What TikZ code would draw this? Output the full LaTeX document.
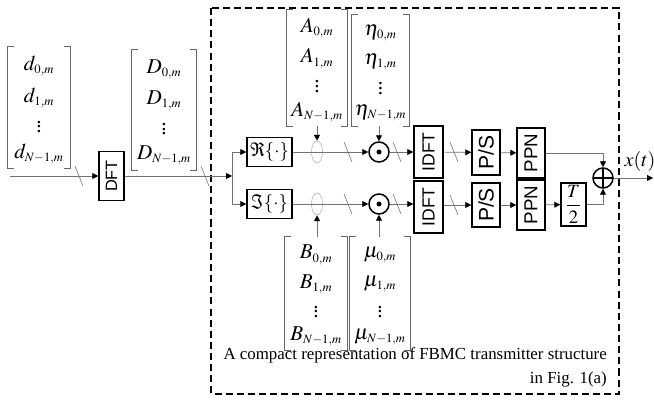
\documentclass[tikz,border=0pt]{standalone}
\usepackage{mathptmx}
\usepackage{fontspec}
\setmainfont{Liberation Serif}
\setsansfont{Liberation Sans}
\usetikzlibrary{arrows.meta,calc,shapes.geometric}

\tikzset{
  sig/.style={draw=black!55, line width=0.6pt, -{Triangle[length=5pt,width=5pt,black]}},
  wire/.style={draw=black!55, line width=0.6pt},
  slash/.style={draw=black!55, line width=0.5pt},
  blk/.style={draw, line width=1.3pt, inner sep=0pt, fill=white},
  brk/.style={draw=black!60, line width=0.7pt},
  entry/.style={inner sep=0pt, font=\fontsize{18}{20}\selectfont},
  vecbox/.style={inner sep=0pt},
  mult/.style={circle, draw, line width=1.3pt, minimum size=0.6cm, inner sep=0pt,
    path picture={\fill (path picture bounding box.center) circle (0.075cm);}},
  adder/.style={circle, draw, line width=1.3pt, minimum size=0.6cm, inner sep=0pt,
    path picture={\draw[line width=1pt] (path picture bounding box.north) -- (path picture bounding box.south)
      (path picture bounding box.west) -- (path picture bounding box.east);}},
  lens/.style={ellipse, draw=black!30, line width=0.5pt, minimum width=0.33cm, minimum height=0.66cm, inner sep=0pt},
  dashbox/.style={draw, line width=0.9pt, dash pattern=on 6pt off 3.5pt},
  capt/.style={inner sep=0pt, font=\fontsize{14.4}{20.5}\selectfont}
}
\newcommand\sub[1]{_{\scriptscriptstyle #1}}

\begin{document}
\begin{tikzpicture}[x=0.03cm, y=-0.03cm]
  \useasboundingbox (0,0) rectangle (654,401);

  % transmitter frame
  \draw[dashbox] (211,8) rectangle (619,394);

  % column vectors
  \node[vecbox, minimum width=1.86cm, minimum height=3.63cm] (dvec) at (39,107.5) {};
  \node[vecbox, minimum width=1.92cm, minimum height=3.6cm] (Dvec) at (164,110) {};
  \node[vecbox, minimum width=1.8cm, minimum height=3.48cm] (Avec) at (317,68) {};
  \node[vecbox, minimum width=1.71cm, minimum height=3.33cm] (evec) at (380.5,70.5) {};
  \node[vecbox, minimum width=1.86cm, minimum height=3.39cm] (Bvec) at (316,293.5) {};
  \node[vecbox, minimum width=1.8cm, minimum height=3.39cm] (mvec) at (380,293.5) {};
  \foreach \v/\s in {dvec/d, Dvec/D, Avec/A, evec/\eta, Bvec/B, mvec/\mu} {
    \draw[brk] ([xshift=0.18cm]\v.north west) -- (\v.north west) -- (\v.south west) -- ([xshift=0.18cm]\v.south west);
    \draw[brk] ([xshift=-0.18cm]\v.north east) -- (\v.north east) -- (\v.south east) -- ([xshift=-0.18cm]\v.south east);
    \node[entry] (\v-0) at ($(\v.north)!0.16!(\v.south)$) {$\s\sub{0,m}$};
    \node[entry] (\v-1) at ($(\v.north)!0.42!(\v.south)$) {$\s\sub{1,m}$};
    \node[entry] (\v-d) at ($(\v.north)!0.63!(\v.south)$) {$\vdots$};
    \node[entry] (\v-n) at ($(\v.north)!0.88!(\v.south)$) {$\s\sub{N-1,m}$};
  }

  % blocks
  \node[blk, rotate=90, minimum width=1.47cm, minimum height=0.75cm, font=\sffamily\fontsize{14}{14}\selectfont] (dft) at (111.5,176) {DFT};
  \node[blk, minimum width=1.35cm, minimum height=0.87cm, font=\fontsize{16}{16}\selectfont] (re) at (269.5,152) {$\Re\{\cdot\}$};
  \node[blk, minimum width=1.35cm, minimum height=0.87cm, font=\fontsize{16}{16}\selectfont] (im) at (269.5,204) {$\Im\{\cdot\}$};
  \node[lens] (eA) at (317,152) {};
  \node[lens] (eB) at (317,204) {};
  \node[mult] (oA) at (379,152) {};
  \node[mult] (oB) at (379,204) {};
  \node[blk, rotate=90, minimum width=1.56cm, minimum height=0.87cm, font=\sffamily\fontsize{15}{15}\selectfont] (ifA) at (428.5,152) {IDFT};
  \node[blk, rotate=90, minimum width=1.56cm, minimum height=0.87cm, font=\sffamily\fontsize{15}{15}\selectfont] (ifB) at (428.5,207) {IDFT};
  \node[blk, rotate=90, minimum width=1.35cm, minimum height=0.84cm, font=\sffamily\fontsize{18}{18}\selectfont] (psA) at (486,152.5) {P/S};
  \node[blk, rotate=90, minimum width=1.32cm, minimum height=0.84cm, font=\sffamily\fontsize{18}{18}\selectfont] (psB) at (486,205) {P/S};
  \node[blk, rotate=90, minimum width=1.5cm, minimum height=0.84cm, font=\sffamily\fontsize{16}{16}\selectfont] (ppA) at (531,153) {PPN};
  \node[blk, rotate=90, minimum width=1.5cm, minimum height=0.84cm, font=\sffamily\fontsize{16}{16}\selectfont] (ppB) at (531,205) {PPN};
  \node[blk, minimum width=0.75cm, minimum height=1.29cm, font=\fontsize{16}{16}\selectfont] (half) at (573.5,204.5) {$\displaystyle\frac{T}{2}$};
  \node[adder] (sum) at (603,178) {};
  \node[font=\fontsize{17}{17}\selectfont, inner sep=0pt] (xt) at (640,162) {$x(t)$};

  \coordinate (src) at (10,176);
  \coordinate (split) at (232,176);
  \coordinate (out) at (653,178);

  % connectors
  \draw[sig] (src) -- (dft);
  \draw[sig] (dft) -- (split);
  \draw[wire] (split |- re) -- (split |- im);
  \draw[sig] (split |- re) -- (re);
  \draw[sig] (split |- im) -- (im);
  \draw[sig] (re) -- (oA);
  \draw[sig] (im) -- (oB);
  \draw[sig] (oA) -- (ifA);
  \draw[sig] (oB) -- (oB -| ifB.north);
  \draw[sig] (ifA) -- (psA);
  \draw[sig] (ifB.south |- psB) -- (psB);
  \draw[sig] (psA) -- (ppA);
  \draw[sig] (psB) -- (ppB);
  \draw[sig] (ppB) -- (half);
  \draw[sig] (ppA) -| (sum);
  \draw[sig] (half) -| (sum);
  \draw[sig] (sum) -- (out);
  \draw[sig] (Avec.south) -- (eA);
  \draw[sig] (evec.south -| oA) -- (oA);
  \draw[sig] (Bvec.north -| eB) -- (eB);
  \draw[sig] (mvec.north -| oB) -- (oB);

  % bus marks
  \draw[slash] (79,176) +(-4,-10) -- +(4,10);
  \draw[slash] (205,176) +(-4,-10) -- +(4,10);
  \draw[slash] (348,152) +(-4,-10) -- +(4,10);
  \draw[slash] (397,152) +(-4,-10) -- +(4,10);
  \draw[slash] (454,152) +(-4,-10) -- +(4,10);
  \draw[slash] (348,204) +(-4,-10) -- +(4,10);
  \draw[slash] (397,204) +(-4,-10) -- +(4,10);
  \draw[slash] (454,205) +(-4,-10) -- +(4,10);

  \node[capt, anchor=north east, align=right] (cap) at (607,347) {A compact representation of FBMC transmitter structure\\in Fig. 1(a)};
\end{tikzpicture}
\end{document}
